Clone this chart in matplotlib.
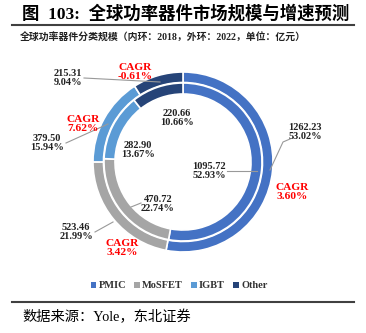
import matplotlib
matplotlib.use('Agg')
import matplotlib.pyplot as plt
from matplotlib.lines import Line2D
from matplotlib.patches import Patch

# data (inner ring = 2018, outer ring = 2022)
categories = ['PMIC', 'MoSFET', 'IGBT', 'Other']
values_2018 = [1095.72, 470.72, 282.90, 220.66]
pct_2018 = ['52.93%', '22.74%', '13.67%', '10.66%']
values_2022 = [1262.23, 523.46, 379.50, 215.31]
pct_2022 = ['53.02%', '21.99%', '15.94%', '9.04%']
cagr = ['3.60%', '3.42%', '7.62%', '-0.61%']
colors = ['#4472C4', '#A5A5A5', '#5B9BD5', '#264478']

W, H = 366, 333
fig = plt.figure(figsize=(W / 100, H / 100), dpi=100)
ax = fig.add_axes([0, 0, 1, 1])
ax.set_xlim(0, W)
ax.set_ylim(0, H)
ax.set_aspect('equal')
ax.axis('off')

cx, cy = 183, H - 162
r_out = 90

ax.pie(values_2022, radius=r_out, center=(cx, cy), colors=colors,
       startangle=90, counterclock=False,
       wedgeprops=dict(width=10.5, edgecolor='white', linewidth=1.2))
ax.pie(values_2018, radius=r_out - 11, center=(cx, cy), colors=colors,
       startangle=90, counterclock=False,
       wedgeprops=dict(width=11, edgecolor='white', linewidth=1.2))
ax.set_xlim(0, W)
ax.set_ylim(0, H)

serif = dict(family='Liberation Serif', fontweight='bold')

def P(x, y):
    return x, H - y

def num_label(x, y, val, pct):
    ax.text(*P(x, y), f'{val:.2f}\n{pct}', ha='center', va='center',
            fontsize=7.5, color='#222222', linespacing=1.1, **serif)

def cagr_label(x, y, txt):
    ax.text(*P(x, y), f'CAGR\n{txt}', ha='center', va='center',
            fontsize=8.2, color='#FF0000', linespacing=1.1, **serif)

def leader(pts):
    xs = [p[0] for p in pts]
    ys = [H - p[1] for p in pts]
    ax.add_line(Line2D(xs, ys, color='#999999', lw=0.8))

# outer ring labels
num_label(305, 132, values_2022[0], pct_2022[0])
leader([(290, 139), (283, 142), (270, 170)])
num_label(76, 232, values_2022[1], pct_2022[1])
leader([(95, 232), (113, 222)])
num_label(47, 143, values_2022[2], pct_2022[2])
leader([(66, 143), (108, 124)])
num_label(68, 78, values_2022[3], pct_2022[3])
leader([(84, 78), (160, 82)])

# inner ring labels
num_label(209, 171, values_2018[0], pct_2018[0])
leader([(227, 171), (257, 171)])
num_label(158, 204, values_2018[1], pct_2018[1])
leader([(131, 207), (141, 203)])
num_label(138, 150, values_2018[2], pct_2018[2])
num_label(177, 118, values_2018[3], pct_2018[3])

# CAGR
cagr_label(292, 192, cagr[0])
cagr_label(122, 248, cagr[1])
cagr_label(83, 124, cagr[2])
cagr_label(135, 72, cagr[3])

# legend
handles = [Patch(facecolor=c, edgecolor='none') for c in colors]
leg = fig.legend(handles, categories, loc='center', bbox_to_anchor=(179 / W, 1 - 286 / H),
                 ncol=4, frameon=False, handlelength=0.55, handleheight=0.55,
                 handletextpad=0.2, columnspacing=0.8,
                 prop=dict(family='Liberation Serif', weight='bold', size=7.5))
for t in leg.get_texts():
    t.set_color('#333333')

# title, subtitle, source
fam = ['Liberation Serif', 'Noto Sans CJK SC']
fig.text(22 / W, 1 - 14 / H, '图  103:  全球功率器件市场规模与增速预测', ha='left', va='center',
         fontsize=12.5, fontweight='bold', family=fam)
ax.add_line(Line2D([12, 354], [H - 25, H - 25], color='#404040', lw=1.5))
fig.text(20 / W, 1 - 38 / H, '全球功率器件分类规模（内环：2018，外环：2022，单位：亿元）',
         ha='left', va='center', fontsize=7.1, fontweight='bold', family=fam,
         color='#222222')
ax.add_line(Line2D([12, 354], [H - 302, H - 302], color='#404040', lw=1.5))
fig.text(22 / W, 1 - 317 / H, '数据来源：Yole，东北证券', ha='left', va='center',
         fontsize=10.3, family=fam)

fig.savefig('out.png', dpi=100)
